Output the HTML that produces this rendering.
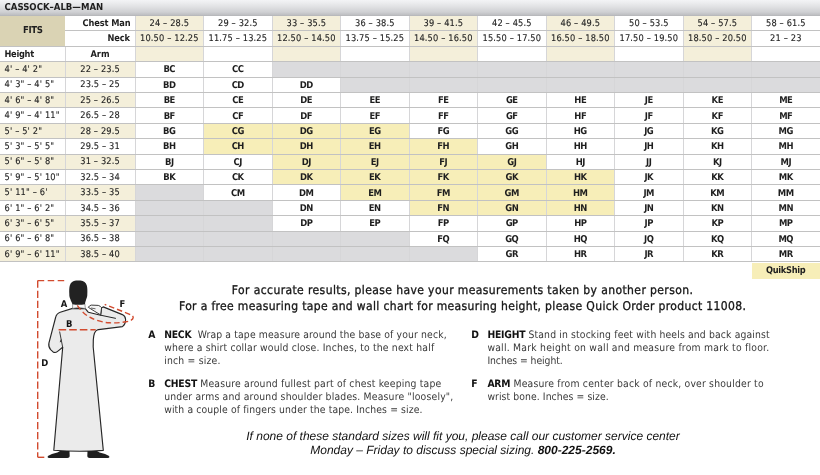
<!DOCTYPE html>
<html><head><meta charset="utf-8">
<style>
html,body{margin:0;padding:0;background:#fff;}
body{width:820px;height:475px;position:relative;overflow:hidden;will-change:transform;text-rendering:geometricPrecision;font-family:"DejaVu Sans Condensed","Liberation Sans",sans-serif;color:#1e1e1e;}
.c{position:absolute;}
.t{position:absolute;white-space:nowrap;font-size:9.2px;}
.t.b{font-weight:bold;}
.t.r{font-weight:normal;color:#222;-webkit-text-stroke:0.1px #222;letter-spacing:0.15px;text-indent:0.15px;}
.t.code{letter-spacing:-0.5px;font-size:9.4px;margin-top:0.6px;}
.t.h{letter-spacing:0.15px;}
.t.lab{letter-spacing:-0.3px;}
.t.q{letter-spacing:-0.3px;}
.fits{font-size:9.5px;letter-spacing:-0.4px;}
.hdr{position:absolute;left:0;top:0;width:820px;height:15.7px;background:linear-gradient(#f3f4f6,#e4e5e7 35%,#cfd0d3 75%,#bfc0c3 92%,#b3b4b7);z-index:2;}
.hdr span{position:absolute;left:4.6px;top:0.45px;line-height:15.4px;font-size:9.5px;font-weight:bold;letter-spacing:0px;}
.hl{position:absolute;left:0;width:820px;height:1px;background:#c2c2c2;}
.vl{position:absolute;width:1px;background:#d6d6d8;}
.p{position:absolute;white-space:nowrap;}
.intro{left:0;width:925.2px;text-align:center;font-size:12px;letter-spacing:0.40px;color:#151515;-webkit-text-stroke:0.3px #151515;}
.sec{font-size:10.3px;line-height:13.1px;color:#383838;letter-spacing:0.2px;}
.sec b{color:#111;letter-spacing:-0.2px;}
.it{font-family:"Liberation Sans",Arial,sans-serif;font-style:italic;font-size:12px;text-align:center;width:926px;left:0;color:#111;}
</style></head><body>
<div class="hdr"><span>CASSOCK–ALB—MAN</span></div>
<div class="c" style="left:0px;top:15.40px;width:65px;height:30.80px;background:#dad3b4;"></div>
<div class="t b fits" style="left:0px;top:16.30px;width:65.6px;height:30.80px;line-height:30.80px;text-align:center;">FITS</div>
<div class="t b" style="left:65px;top:15.70px;width:65.5px;height:15.40px;line-height:15.40px;text-align:right;letter-spacing:-0.12px">Chest Man</div>
<div class="t b" style="left:65px;top:31.10px;width:65.5px;height:15.40px;line-height:15.40px;text-align:right;letter-spacing:-0.15px;margin-left:-0.6px">Neck</div>
<div class="t b lab" style="left:4.5px;top:46.50px;width:60.5px;height:15.40px;line-height:15.40px;text-align:left;">Height</div>
<div class="t b" style="left:65px;top:46.50px;width:70px;height:15.40px;line-height:15.40px;text-align:center;">Arm</div>
<div class="c" style="left:135px;top:15.40px;width:68.5px;height:46.20px;background:#f4efda;"></div>
<div class="t r" style="left:135px;top:15.70px;width:68.5px;height:15.40px;line-height:15.40px;text-align:center;">24 – 28.5</div>
<div class="t r" style="left:135px;top:31.10px;width:68.5px;height:15.40px;line-height:15.40px;text-align:center;">10.50 – 12.25</div>
<div class="t r" style="left:203.5px;top:15.70px;width:68.5px;height:15.40px;line-height:15.40px;text-align:center;">29 – 32.5</div>
<div class="t r" style="left:203.5px;top:31.10px;width:68.5px;height:15.40px;line-height:15.40px;text-align:center;">11.75 – 13.25</div>
<div class="c" style="left:272px;top:15.40px;width:68.5px;height:46.20px;background:#f4efda;"></div>
<div class="t r" style="left:272px;top:15.70px;width:68.5px;height:15.40px;line-height:15.40px;text-align:center;">33 – 35.5</div>
<div class="t r" style="left:272px;top:31.10px;width:68.5px;height:15.40px;line-height:15.40px;text-align:center;">12.50 – 14.50</div>
<div class="t r" style="left:340.5px;top:15.70px;width:68.5px;height:15.40px;line-height:15.40px;text-align:center;">36 – 38.5</div>
<div class="t r" style="left:340.5px;top:31.10px;width:68.5px;height:15.40px;line-height:15.40px;text-align:center;">13.75 – 15.25</div>
<div class="c" style="left:409px;top:15.40px;width:68.5px;height:46.20px;background:#f4efda;"></div>
<div class="t r" style="left:409px;top:15.70px;width:68.5px;height:15.40px;line-height:15.40px;text-align:center;">39 – 41.5</div>
<div class="t r" style="left:409px;top:31.10px;width:68.5px;height:15.40px;line-height:15.40px;text-align:center;">14.50 – 16.50</div>
<div class="t r" style="left:477.5px;top:15.70px;width:68.5px;height:15.40px;line-height:15.40px;text-align:center;">42 – 45.5</div>
<div class="t r" style="left:477.5px;top:31.10px;width:68.5px;height:15.40px;line-height:15.40px;text-align:center;">15.50 – 17.50</div>
<div class="c" style="left:546px;top:15.40px;width:68.5px;height:46.20px;background:#f4efda;"></div>
<div class="t r" style="left:546px;top:15.70px;width:68.5px;height:15.40px;line-height:15.40px;text-align:center;">46 – 49.5</div>
<div class="t r" style="left:546px;top:31.10px;width:68.5px;height:15.40px;line-height:15.40px;text-align:center;">16.50 – 18.50</div>
<div class="t r" style="left:614.5px;top:15.70px;width:68.5px;height:15.40px;line-height:15.40px;text-align:center;">50 – 53.5</div>
<div class="t r" style="left:614.5px;top:31.10px;width:68.5px;height:15.40px;line-height:15.40px;text-align:center;">17.50 – 19.50</div>
<div class="c" style="left:683px;top:15.40px;width:68.5px;height:46.20px;background:#f4efda;"></div>
<div class="t r" style="left:683px;top:15.70px;width:68.5px;height:15.40px;line-height:15.40px;text-align:center;">54 – 57.5</div>
<div class="t r" style="left:683px;top:31.10px;width:68.5px;height:15.40px;line-height:15.40px;text-align:center;">18.50 – 20.50</div>
<div class="t r" style="left:751.5px;top:15.70px;width:68.5px;height:15.40px;line-height:15.40px;text-align:center;">58 – 61.5</div>
<div class="t r" style="left:751.5px;top:31.10px;width:68.5px;height:15.40px;line-height:15.40px;text-align:center;">21 – 23</div>
<div class="c" style="left:0px;top:61.60px;width:135px;height:15.40px;background:#f4efda;"></div>
<div class="t r h" style="left:4.4px;top:61.90px;width:65.6px;height:15.40px;line-height:15.40px;text-align:left;">4' – 4' 2&quot;</div>
<div class="t r" style="left:65px;top:61.90px;width:70px;height:15.40px;line-height:15.40px;text-align:center;">22 – 23.5</div>
<div class="t b code" style="left:135px;top:61.90px;width:68.5px;height:15.40px;line-height:15.40px;text-align:center;">BC</div>
<div class="t b code" style="left:203.5px;top:61.90px;width:68.5px;height:15.40px;line-height:15.40px;text-align:center;">CC</div>
<div class="c" style="left:272px;top:61.60px;width:68.5px;height:15.40px;background:#dbdbdd;"></div>
<div class="c" style="left:340.5px;top:61.60px;width:68.5px;height:15.40px;background:#dbdbdd;"></div>
<div class="c" style="left:409px;top:61.60px;width:68.5px;height:15.40px;background:#dbdbdd;"></div>
<div class="c" style="left:477.5px;top:61.60px;width:68.5px;height:15.40px;background:#dbdbdd;"></div>
<div class="c" style="left:546px;top:61.60px;width:68.5px;height:15.40px;background:#dbdbdd;"></div>
<div class="c" style="left:614.5px;top:61.60px;width:68.5px;height:15.40px;background:#dbdbdd;"></div>
<div class="c" style="left:683px;top:61.60px;width:68.5px;height:15.40px;background:#dbdbdd;"></div>
<div class="c" style="left:751.5px;top:61.60px;width:68.5px;height:15.40px;background:#dbdbdd;"></div>
<div class="t r h" style="left:4.4px;top:77.30px;width:65.6px;height:15.40px;line-height:15.40px;text-align:left;">4' 3&quot; – 4' 5&quot;</div>
<div class="t r" style="left:65px;top:77.30px;width:70px;height:15.40px;line-height:15.40px;text-align:center;">23.5 – 25</div>
<div class="t b code" style="left:135px;top:77.30px;width:68.5px;height:15.40px;line-height:15.40px;text-align:center;">BD</div>
<div class="t b code" style="left:203.5px;top:77.30px;width:68.5px;height:15.40px;line-height:15.40px;text-align:center;">CD</div>
<div class="t b code" style="left:272px;top:77.30px;width:68.5px;height:15.40px;line-height:15.40px;text-align:center;">DD</div>
<div class="c" style="left:340.5px;top:77.00px;width:68.5px;height:15.40px;background:#dbdbdd;"></div>
<div class="c" style="left:409px;top:77.00px;width:68.5px;height:15.40px;background:#dbdbdd;"></div>
<div class="c" style="left:477.5px;top:77.00px;width:68.5px;height:15.40px;background:#dbdbdd;"></div>
<div class="c" style="left:546px;top:77.00px;width:68.5px;height:15.40px;background:#dbdbdd;"></div>
<div class="c" style="left:614.5px;top:77.00px;width:68.5px;height:15.40px;background:#dbdbdd;"></div>
<div class="c" style="left:683px;top:77.00px;width:68.5px;height:15.40px;background:#dbdbdd;"></div>
<div class="c" style="left:751.5px;top:77.00px;width:68.5px;height:15.40px;background:#dbdbdd;"></div>
<div class="c" style="left:0px;top:92.40px;width:135px;height:15.40px;background:#f4efda;"></div>
<div class="t r h" style="left:4.4px;top:92.70px;width:65.6px;height:15.40px;line-height:15.40px;text-align:left;">4' 6&quot; – 4' 8&quot;</div>
<div class="t r" style="left:65px;top:92.70px;width:70px;height:15.40px;line-height:15.40px;text-align:center;">25 – 26.5</div>
<div class="t b code" style="left:135px;top:92.70px;width:68.5px;height:15.40px;line-height:15.40px;text-align:center;">BE</div>
<div class="t b code" style="left:203.5px;top:92.70px;width:68.5px;height:15.40px;line-height:15.40px;text-align:center;">CE</div>
<div class="t b code" style="left:272px;top:92.70px;width:68.5px;height:15.40px;line-height:15.40px;text-align:center;">DE</div>
<div class="t b code" style="left:340.5px;top:92.70px;width:68.5px;height:15.40px;line-height:15.40px;text-align:center;">EE</div>
<div class="t b code" style="left:409px;top:92.70px;width:68.5px;height:15.40px;line-height:15.40px;text-align:center;">FE</div>
<div class="t b code" style="left:477.5px;top:92.70px;width:68.5px;height:15.40px;line-height:15.40px;text-align:center;">GE</div>
<div class="t b code" style="left:546px;top:92.70px;width:68.5px;height:15.40px;line-height:15.40px;text-align:center;">HE</div>
<div class="t b code" style="left:614.5px;top:92.70px;width:68.5px;height:15.40px;line-height:15.40px;text-align:center;">JE</div>
<div class="t b code" style="left:683px;top:92.70px;width:68.5px;height:15.40px;line-height:15.40px;text-align:center;">KE</div>
<div class="t b code" style="left:751.5px;top:92.70px;width:68.5px;height:15.40px;line-height:15.40px;text-align:center;">ME</div>
<div class="t r h" style="left:4.4px;top:108.10px;width:65.6px;height:15.40px;line-height:15.40px;text-align:left;">4' 9&quot; – 4' 11&quot;</div>
<div class="t r" style="left:65px;top:108.10px;width:70px;height:15.40px;line-height:15.40px;text-align:center;">26.5 – 28</div>
<div class="t b code" style="left:135px;top:108.10px;width:68.5px;height:15.40px;line-height:15.40px;text-align:center;">BF</div>
<div class="t b code" style="left:203.5px;top:108.10px;width:68.5px;height:15.40px;line-height:15.40px;text-align:center;">CF</div>
<div class="t b code" style="left:272px;top:108.10px;width:68.5px;height:15.40px;line-height:15.40px;text-align:center;">DF</div>
<div class="t b code" style="left:340.5px;top:108.10px;width:68.5px;height:15.40px;line-height:15.40px;text-align:center;">EF</div>
<div class="t b code" style="left:409px;top:108.10px;width:68.5px;height:15.40px;line-height:15.40px;text-align:center;">FF</div>
<div class="t b code" style="left:477.5px;top:108.10px;width:68.5px;height:15.40px;line-height:15.40px;text-align:center;">GF</div>
<div class="t b code" style="left:546px;top:108.10px;width:68.5px;height:15.40px;line-height:15.40px;text-align:center;">HF</div>
<div class="t b code" style="left:614.5px;top:108.10px;width:68.5px;height:15.40px;line-height:15.40px;text-align:center;">JF</div>
<div class="t b code" style="left:683px;top:108.10px;width:68.5px;height:15.40px;line-height:15.40px;text-align:center;">KF</div>
<div class="t b code" style="left:751.5px;top:108.10px;width:68.5px;height:15.40px;line-height:15.40px;text-align:center;">MF</div>
<div class="c" style="left:0px;top:123.20px;width:135px;height:15.40px;background:#f4efda;"></div>
<div class="t r h" style="left:4.4px;top:123.50px;width:65.6px;height:15.40px;line-height:15.40px;text-align:left;">5' – 5' 2&quot;</div>
<div class="t r" style="left:65px;top:123.50px;width:70px;height:15.40px;line-height:15.40px;text-align:center;">28 – 29.5</div>
<div class="t b code" style="left:135px;top:123.50px;width:68.5px;height:15.40px;line-height:15.40px;text-align:center;">BG</div>
<div class="c" style="left:203.5px;top:123.20px;width:68.5px;height:15.40px;background:#f7eeb8;"></div>
<div class="t b code" style="left:203.5px;top:123.50px;width:68.5px;height:15.40px;line-height:15.40px;text-align:center;">CG</div>
<div class="c" style="left:272px;top:123.20px;width:68.5px;height:15.40px;background:#f7eeb8;"></div>
<div class="t b code" style="left:272px;top:123.50px;width:68.5px;height:15.40px;line-height:15.40px;text-align:center;">DG</div>
<div class="c" style="left:340.5px;top:123.20px;width:68.5px;height:15.40px;background:#f7eeb8;"></div>
<div class="t b code" style="left:340.5px;top:123.50px;width:68.5px;height:15.40px;line-height:15.40px;text-align:center;">EG</div>
<div class="t b code" style="left:409px;top:123.50px;width:68.5px;height:15.40px;line-height:15.40px;text-align:center;">FG</div>
<div class="t b code" style="left:477.5px;top:123.50px;width:68.5px;height:15.40px;line-height:15.40px;text-align:center;">GG</div>
<div class="t b code" style="left:546px;top:123.50px;width:68.5px;height:15.40px;line-height:15.40px;text-align:center;">HG</div>
<div class="t b code" style="left:614.5px;top:123.50px;width:68.5px;height:15.40px;line-height:15.40px;text-align:center;">JG</div>
<div class="t b code" style="left:683px;top:123.50px;width:68.5px;height:15.40px;line-height:15.40px;text-align:center;">KG</div>
<div class="t b code" style="left:751.5px;top:123.50px;width:68.5px;height:15.40px;line-height:15.40px;text-align:center;">MG</div>
<div class="t r h" style="left:4.4px;top:138.90px;width:65.6px;height:15.40px;line-height:15.40px;text-align:left;">5' 3&quot; – 5' 5&quot;</div>
<div class="t r" style="left:65px;top:138.90px;width:70px;height:15.40px;line-height:15.40px;text-align:center;">29.5 – 31</div>
<div class="t b code" style="left:135px;top:138.90px;width:68.5px;height:15.40px;line-height:15.40px;text-align:center;">BH</div>
<div class="c" style="left:203.5px;top:138.60px;width:68.5px;height:15.40px;background:#f7eeb8;"></div>
<div class="t b code" style="left:203.5px;top:138.90px;width:68.5px;height:15.40px;line-height:15.40px;text-align:center;">CH</div>
<div class="c" style="left:272px;top:138.60px;width:68.5px;height:15.40px;background:#f7eeb8;"></div>
<div class="t b code" style="left:272px;top:138.90px;width:68.5px;height:15.40px;line-height:15.40px;text-align:center;">DH</div>
<div class="c" style="left:340.5px;top:138.60px;width:68.5px;height:15.40px;background:#f7eeb8;"></div>
<div class="t b code" style="left:340.5px;top:138.90px;width:68.5px;height:15.40px;line-height:15.40px;text-align:center;">EH</div>
<div class="c" style="left:409px;top:138.60px;width:68.5px;height:15.40px;background:#f7eeb8;"></div>
<div class="t b code" style="left:409px;top:138.90px;width:68.5px;height:15.40px;line-height:15.40px;text-align:center;">FH</div>
<div class="t b code" style="left:477.5px;top:138.90px;width:68.5px;height:15.40px;line-height:15.40px;text-align:center;">GH</div>
<div class="t b code" style="left:546px;top:138.90px;width:68.5px;height:15.40px;line-height:15.40px;text-align:center;">HH</div>
<div class="t b code" style="left:614.5px;top:138.90px;width:68.5px;height:15.40px;line-height:15.40px;text-align:center;">JH</div>
<div class="t b code" style="left:683px;top:138.90px;width:68.5px;height:15.40px;line-height:15.40px;text-align:center;">KH</div>
<div class="t b code" style="left:751.5px;top:138.90px;width:68.5px;height:15.40px;line-height:15.40px;text-align:center;">MH</div>
<div class="c" style="left:0px;top:154.00px;width:135px;height:15.40px;background:#f4efda;"></div>
<div class="t r h" style="left:4.4px;top:154.30px;width:65.6px;height:15.40px;line-height:15.40px;text-align:left;">5' 6&quot; – 5' 8&quot;</div>
<div class="t r" style="left:65px;top:154.30px;width:70px;height:15.40px;line-height:15.40px;text-align:center;">31 – 32.5</div>
<div class="t b code" style="left:135px;top:154.30px;width:68.5px;height:15.40px;line-height:15.40px;text-align:center;">BJ</div>
<div class="t b code" style="left:203.5px;top:154.30px;width:68.5px;height:15.40px;line-height:15.40px;text-align:center;">CJ</div>
<div class="c" style="left:272px;top:154.00px;width:68.5px;height:15.40px;background:#f7eeb8;"></div>
<div class="t b code" style="left:272px;top:154.30px;width:68.5px;height:15.40px;line-height:15.40px;text-align:center;">DJ</div>
<div class="c" style="left:340.5px;top:154.00px;width:68.5px;height:15.40px;background:#f7eeb8;"></div>
<div class="t b code" style="left:340.5px;top:154.30px;width:68.5px;height:15.40px;line-height:15.40px;text-align:center;">EJ</div>
<div class="c" style="left:409px;top:154.00px;width:68.5px;height:15.40px;background:#f7eeb8;"></div>
<div class="t b code" style="left:409px;top:154.30px;width:68.5px;height:15.40px;line-height:15.40px;text-align:center;">FJ</div>
<div class="c" style="left:477.5px;top:154.00px;width:68.5px;height:15.40px;background:#f7eeb8;"></div>
<div class="t b code" style="left:477.5px;top:154.30px;width:68.5px;height:15.40px;line-height:15.40px;text-align:center;">GJ</div>
<div class="t b code" style="left:546px;top:154.30px;width:68.5px;height:15.40px;line-height:15.40px;text-align:center;">HJ</div>
<div class="t b code" style="left:614.5px;top:154.30px;width:68.5px;height:15.40px;line-height:15.40px;text-align:center;">JJ</div>
<div class="t b code" style="left:683px;top:154.30px;width:68.5px;height:15.40px;line-height:15.40px;text-align:center;">KJ</div>
<div class="t b code" style="left:751.5px;top:154.30px;width:68.5px;height:15.40px;line-height:15.40px;text-align:center;">MJ</div>
<div class="t r h" style="left:4.4px;top:169.70px;width:65.6px;height:15.40px;line-height:15.40px;text-align:left;">5' 9&quot; – 5' 10&quot;</div>
<div class="t r" style="left:65px;top:169.70px;width:70px;height:15.40px;line-height:15.40px;text-align:center;">32.5 – 34</div>
<div class="t b code" style="left:135px;top:169.70px;width:68.5px;height:15.40px;line-height:15.40px;text-align:center;">BK</div>
<div class="t b code" style="left:203.5px;top:169.70px;width:68.5px;height:15.40px;line-height:15.40px;text-align:center;">CK</div>
<div class="c" style="left:272px;top:169.40px;width:68.5px;height:15.40px;background:#f7eeb8;"></div>
<div class="t b code" style="left:272px;top:169.70px;width:68.5px;height:15.40px;line-height:15.40px;text-align:center;">DK</div>
<div class="c" style="left:340.5px;top:169.40px;width:68.5px;height:15.40px;background:#f7eeb8;"></div>
<div class="t b code" style="left:340.5px;top:169.70px;width:68.5px;height:15.40px;line-height:15.40px;text-align:center;">EK</div>
<div class="c" style="left:409px;top:169.40px;width:68.5px;height:15.40px;background:#f7eeb8;"></div>
<div class="t b code" style="left:409px;top:169.70px;width:68.5px;height:15.40px;line-height:15.40px;text-align:center;">FK</div>
<div class="c" style="left:477.5px;top:169.40px;width:68.5px;height:15.40px;background:#f7eeb8;"></div>
<div class="t b code" style="left:477.5px;top:169.70px;width:68.5px;height:15.40px;line-height:15.40px;text-align:center;">GK</div>
<div class="c" style="left:546px;top:169.40px;width:68.5px;height:15.40px;background:#f7eeb8;"></div>
<div class="t b code" style="left:546px;top:169.70px;width:68.5px;height:15.40px;line-height:15.40px;text-align:center;">HK</div>
<div class="t b code" style="left:614.5px;top:169.70px;width:68.5px;height:15.40px;line-height:15.40px;text-align:center;">JK</div>
<div class="t b code" style="left:683px;top:169.70px;width:68.5px;height:15.40px;line-height:15.40px;text-align:center;">KK</div>
<div class="t b code" style="left:751.5px;top:169.70px;width:68.5px;height:15.40px;line-height:15.40px;text-align:center;">MK</div>
<div class="c" style="left:0px;top:184.80px;width:135px;height:15.40px;background:#f4efda;"></div>
<div class="t r h" style="left:4.4px;top:185.10px;width:65.6px;height:15.40px;line-height:15.40px;text-align:left;">5' 11&quot; – 6'</div>
<div class="t r" style="left:65px;top:185.10px;width:70px;height:15.40px;line-height:15.40px;text-align:center;">33.5 – 35</div>
<div class="c" style="left:135px;top:184.80px;width:68.5px;height:15.40px;background:#dbdbdd;"></div>
<div class="t b code" style="left:203.5px;top:185.10px;width:68.5px;height:15.40px;line-height:15.40px;text-align:center;">CM</div>
<div class="t b code" style="left:272px;top:185.10px;width:68.5px;height:15.40px;line-height:15.40px;text-align:center;">DM</div>
<div class="c" style="left:340.5px;top:184.80px;width:68.5px;height:15.40px;background:#f7eeb8;"></div>
<div class="t b code" style="left:340.5px;top:185.10px;width:68.5px;height:15.40px;line-height:15.40px;text-align:center;">EM</div>
<div class="c" style="left:409px;top:184.80px;width:68.5px;height:15.40px;background:#f7eeb8;"></div>
<div class="t b code" style="left:409px;top:185.10px;width:68.5px;height:15.40px;line-height:15.40px;text-align:center;">FM</div>
<div class="c" style="left:477.5px;top:184.80px;width:68.5px;height:15.40px;background:#f7eeb8;"></div>
<div class="t b code" style="left:477.5px;top:185.10px;width:68.5px;height:15.40px;line-height:15.40px;text-align:center;">GM</div>
<div class="c" style="left:546px;top:184.80px;width:68.5px;height:15.40px;background:#f7eeb8;"></div>
<div class="t b code" style="left:546px;top:185.10px;width:68.5px;height:15.40px;line-height:15.40px;text-align:center;">HM</div>
<div class="t b code" style="left:614.5px;top:185.10px;width:68.5px;height:15.40px;line-height:15.40px;text-align:center;">JM</div>
<div class="t b code" style="left:683px;top:185.10px;width:68.5px;height:15.40px;line-height:15.40px;text-align:center;">KM</div>
<div class="t b code" style="left:751.5px;top:185.10px;width:68.5px;height:15.40px;line-height:15.40px;text-align:center;">MM</div>
<div class="t r h" style="left:4.4px;top:200.50px;width:65.6px;height:15.40px;line-height:15.40px;text-align:left;">6' 1&quot; – 6' 2&quot;</div>
<div class="t r" style="left:65px;top:200.50px;width:70px;height:15.40px;line-height:15.40px;text-align:center;">34.5 – 36</div>
<div class="c" style="left:135px;top:200.20px;width:68.5px;height:15.40px;background:#dbdbdd;"></div>
<div class="c" style="left:203.5px;top:200.20px;width:68.5px;height:15.40px;background:#dbdbdd;"></div>
<div class="t b code" style="left:272px;top:200.50px;width:68.5px;height:15.40px;line-height:15.40px;text-align:center;">DN</div>
<div class="t b code" style="left:340.5px;top:200.50px;width:68.5px;height:15.40px;line-height:15.40px;text-align:center;">EN</div>
<div class="c" style="left:409px;top:200.20px;width:68.5px;height:15.40px;background:#f7eeb8;"></div>
<div class="t b code" style="left:409px;top:200.50px;width:68.5px;height:15.40px;line-height:15.40px;text-align:center;">FN</div>
<div class="c" style="left:477.5px;top:200.20px;width:68.5px;height:15.40px;background:#f7eeb8;"></div>
<div class="t b code" style="left:477.5px;top:200.50px;width:68.5px;height:15.40px;line-height:15.40px;text-align:center;">GN</div>
<div class="c" style="left:546px;top:200.20px;width:68.5px;height:15.40px;background:#f7eeb8;"></div>
<div class="t b code" style="left:546px;top:200.50px;width:68.5px;height:15.40px;line-height:15.40px;text-align:center;">HN</div>
<div class="t b code" style="left:614.5px;top:200.50px;width:68.5px;height:15.40px;line-height:15.40px;text-align:center;">JN</div>
<div class="t b code" style="left:683px;top:200.50px;width:68.5px;height:15.40px;line-height:15.40px;text-align:center;">KN</div>
<div class="t b code" style="left:751.5px;top:200.50px;width:68.5px;height:15.40px;line-height:15.40px;text-align:center;">MN</div>
<div class="c" style="left:0px;top:215.60px;width:135px;height:15.40px;background:#f4efda;"></div>
<div class="t r h" style="left:4.4px;top:215.90px;width:65.6px;height:15.40px;line-height:15.40px;text-align:left;">6' 3&quot; – 6' 5&quot;</div>
<div class="t r" style="left:65px;top:215.90px;width:70px;height:15.40px;line-height:15.40px;text-align:center;">35.5 – 37</div>
<div class="c" style="left:135px;top:215.60px;width:68.5px;height:15.40px;background:#dbdbdd;"></div>
<div class="c" style="left:203.5px;top:215.60px;width:68.5px;height:15.40px;background:#dbdbdd;"></div>
<div class="t b code" style="left:272px;top:215.90px;width:68.5px;height:15.40px;line-height:15.40px;text-align:center;">DP</div>
<div class="t b code" style="left:340.5px;top:215.90px;width:68.5px;height:15.40px;line-height:15.40px;text-align:center;">EP</div>
<div class="t b code" style="left:409px;top:215.90px;width:68.5px;height:15.40px;line-height:15.40px;text-align:center;">FP</div>
<div class="t b code" style="left:477.5px;top:215.90px;width:68.5px;height:15.40px;line-height:15.40px;text-align:center;">GP</div>
<div class="t b code" style="left:546px;top:215.90px;width:68.5px;height:15.40px;line-height:15.40px;text-align:center;">HP</div>
<div class="t b code" style="left:614.5px;top:215.90px;width:68.5px;height:15.40px;line-height:15.40px;text-align:center;">JP</div>
<div class="t b code" style="left:683px;top:215.90px;width:68.5px;height:15.40px;line-height:15.40px;text-align:center;">KP</div>
<div class="t b code" style="left:751.5px;top:215.90px;width:68.5px;height:15.40px;line-height:15.40px;text-align:center;">MP</div>
<div class="t r h" style="left:4.4px;top:231.30px;width:65.6px;height:15.40px;line-height:15.40px;text-align:left;">6' 6&quot; – 6' 8&quot;</div>
<div class="t r" style="left:65px;top:231.30px;width:70px;height:15.40px;line-height:15.40px;text-align:center;">36.5 – 38</div>
<div class="c" style="left:135px;top:231.00px;width:68.5px;height:15.40px;background:#dbdbdd;"></div>
<div class="c" style="left:203.5px;top:231.00px;width:68.5px;height:15.40px;background:#dbdbdd;"></div>
<div class="c" style="left:272px;top:231.00px;width:68.5px;height:15.40px;background:#dbdbdd;"></div>
<div class="c" style="left:340.5px;top:231.00px;width:68.5px;height:15.40px;background:#dbdbdd;"></div>
<div class="t b code" style="left:409px;top:231.30px;width:68.5px;height:15.40px;line-height:15.40px;text-align:center;">FQ</div>
<div class="t b code" style="left:477.5px;top:231.30px;width:68.5px;height:15.40px;line-height:15.40px;text-align:center;">GQ</div>
<div class="t b code" style="left:546px;top:231.30px;width:68.5px;height:15.40px;line-height:15.40px;text-align:center;">HQ</div>
<div class="t b code" style="left:614.5px;top:231.30px;width:68.5px;height:15.40px;line-height:15.40px;text-align:center;">JQ</div>
<div class="t b code" style="left:683px;top:231.30px;width:68.5px;height:15.40px;line-height:15.40px;text-align:center;">KQ</div>
<div class="t b code" style="left:751.5px;top:231.30px;width:68.5px;height:15.40px;line-height:15.40px;text-align:center;">MQ</div>
<div class="c" style="left:0px;top:246.40px;width:135px;height:15.40px;background:#f4efda;"></div>
<div class="t r h" style="left:4.4px;top:246.70px;width:65.6px;height:15.40px;line-height:15.40px;text-align:left;">6' 9&quot; – 6' 11&quot;</div>
<div class="t r" style="left:65px;top:246.70px;width:70px;height:15.40px;line-height:15.40px;text-align:center;">38.5 – 40</div>
<div class="c" style="left:135px;top:246.40px;width:68.5px;height:15.40px;background:#dbdbdd;"></div>
<div class="c" style="left:203.5px;top:246.40px;width:68.5px;height:15.40px;background:#dbdbdd;"></div>
<div class="c" style="left:272px;top:246.40px;width:68.5px;height:15.40px;background:#dbdbdd;"></div>
<div class="c" style="left:340.5px;top:246.40px;width:68.5px;height:15.40px;background:#dbdbdd;"></div>
<div class="c" style="left:409px;top:246.40px;width:68.5px;height:15.40px;background:#dbdbdd;"></div>
<div class="t b code" style="left:477.5px;top:246.70px;width:68.5px;height:15.40px;line-height:15.40px;text-align:center;">GR</div>
<div class="t b code" style="left:546px;top:246.70px;width:68.5px;height:15.40px;line-height:15.40px;text-align:center;">HR</div>
<div class="t b code" style="left:614.5px;top:246.70px;width:68.5px;height:15.40px;line-height:15.40px;text-align:center;">JR</div>
<div class="t b code" style="left:683px;top:246.70px;width:68.5px;height:15.40px;line-height:15.40px;text-align:center;">KR</div>
<div class="t b code" style="left:751.5px;top:246.70px;width:68.5px;height:15.40px;line-height:15.40px;text-align:center;">MR</div>
<div class="c" style="left:751.5px;top:262.60px;width:68.5px;height:16.80px;background:#f7eeb8;"></div>
<div class="t b q" style="left:751.5px;top:262.90px;width:68.5px;height:16.80px;line-height:16.80px;text-align:center;">QuikShip</div>
<div class="vl" style="left:64.5px;top:46.20px;height:215.60px"></div>
<div class="vl" style="left:134.5px;top:15.40px;height:246.40px"></div>
<div class="vl" style="left:203.0px;top:15.40px;height:246.40px"></div>
<div class="vl" style="left:271.5px;top:15.40px;height:246.40px"></div>
<div class="vl" style="left:340.0px;top:15.40px;height:246.40px"></div>
<div class="vl" style="left:408.5px;top:15.40px;height:246.40px"></div>
<div class="vl" style="left:477.0px;top:15.40px;height:246.40px"></div>
<div class="vl" style="left:545.5px;top:15.40px;height:246.40px"></div>
<div class="vl" style="left:614.0px;top:15.40px;height:246.40px"></div>
<div class="vl" style="left:682.5px;top:15.40px;height:246.40px"></div>
<div class="vl" style="left:751.0px;top:15.40px;height:246.40px"></div>
<div class="hl" style="top:30.30px;left:65px;width:755px"></div>
<div class="hl" style="top:45.70px"></div>
<div class="hl" style="top:61.10px"></div>
<div class="hl" style="top:76.50px"></div>
<div class="hl" style="top:91.90px"></div>
<div class="hl" style="top:107.30px"></div>
<div class="hl" style="top:122.70px"></div>
<div class="hl" style="top:138.10px"></div>
<div class="hl" style="top:153.50px"></div>
<div class="hl" style="top:168.90px"></div>
<div class="hl" style="top:184.30px"></div>
<div class="hl" style="top:199.70px"></div>
<div class="hl" style="top:215.10px"></div>
<div class="hl" style="top:230.50px"></div>
<div class="hl" style="top:245.90px"></div>
<div class="hl" style="top:261.30px"></div>
<div class="p intro" style="top:283.3px">For accurate results, please have your measurements taken by another person.</div>
<div class="p intro" style="top:298.6px;letter-spacing:0.35px">For a free measuring tape and wall chart for measuring height, please Quick Order product 11008.</div>
<div class="p sec" style="left:148.3px;top:328.9px"><b>A</b></div>
<div class="p sec" style="left:164.2px;top:328.9px"><span style="letter-spacing:0.145px"><b>NECK</b>&nbsp; Wrap a tape measure around the base of your neck,</span><br><span style="letter-spacing:0.185px">where a shirt collar would close. Inches, to the next half</span><br>inch = size.</div>
<div class="p sec" style="left:148.3px;top:378px"><b>B</b></div>
<div class="p sec" style="left:164.2px;top:378px"><b>CHEST</b> Measure around fullest part of chest keeping tape<br>under arms and around shoulder blades. Measure &quot;loosely&quot;,<br><span style="letter-spacing:0.13px">with a couple of fingers under the tape. Inches = size.</span></div>
<div class="p sec" style="left:471.2px;top:328.9px"><b>D</b></div>
<div class="p sec" style="left:487.4px;top:328.9px"><span style="letter-spacing:0.145px"><b>HEIGHT</b> Stand in stocking feet with heels and back against</span><br><span style="letter-spacing:0.235px">wall. Mark height on wall and measure from mark to floor.</span><br><span style="letter-spacing:-0.06px">Inches = height.</span></div>
<div class="p sec" style="left:471.2px;top:377.6px"><b>F</b></div>
<div class="p sec" style="left:487.4px;top:377.6px"><b>ARM</b> Measure from center back of neck, over shoulder to<br><span style="letter-spacing:0.09px">wrist bone. Inches = size.</span></div>
<div class="p it" style="top:428.6px">If none of these standard sizes will fit you, please call our customer service center</div>
<div class="p it" style="top:443.2px">Monday – Friday to discuss special sizing. <b>800-225-2569.</b></div>
<svg style="position:absolute;left:0;top:0" width="820" height="475" viewBox="0 0 820 475">
<g fill="none" stroke="#d24b2f" stroke-width="1.4">
<path d="M37.7 280.6 L64.5 280.6" stroke-dasharray="6.5 3.5"/>
<path d="M37.7 280.6 L37.7 457.3" stroke-dasharray="7.2 2.9"/>
<path d="M37.7 457.3 L44.3 457.3"/>
</g>
<path d="M72.6 308.4 L60.2 312.2 Q56.4 313.6 55.6 317.5 L48.9 343.2 Q48.2 347 50.6 349.6 L53.1 351.9 Q55.2 353.2 57.3 351.6 L62.7 347.3 L53.8 450.2 Q78.5 452.2 103.3 450.4 L93.2 347 L93.3 340 Q93.8 331.2 97.2 330 L98.4 329.6 L122.4 326.6 Q125.7 324.2 125.6 319.5 Q125.3 315.9 122.4 314.6 L103.2 306.9 L101.6 307.7 L100.6 315.2 L88.4 312.3 L85.3 308.6 Z" fill="#ebebeb" stroke="#262626" stroke-width="1.15" stroke-linejoin="round"/>
<path d="M100.6 315.2 L115.9 318.4" fill="none" stroke="#262626" stroke-width="1"/>
<path d="M62.7 347.3 L59.6 331.5 M61.2 339.5 L60.2 342.2" fill="none" stroke="#262626" stroke-width="0.9"/>
<path d="M88.3 307.3 Q89.5 305.4 91.3 305.1 L98.3 305.4 Q100.4 306 101.6 307.7 L100.6 314.9 Q94 311 88.3 307.3 Z" fill="#f4f4f4" stroke="#262626" stroke-width="0.9" stroke-linejoin="round"/>
<path d="M91 308 L95.5 308.8" fill="none" stroke="#262626" stroke-width="0.7"/>
<path d="M72.6 303.6 L84.9 303.6 L85.3 308.6 Q79 306.4 72.6 308.4 Z" fill="#f6f6f6" stroke="#777" stroke-width="0.7"/>
<path d="M72.6 304.2 C71.6 302 70.8 300.8 70.4 299.2 C69.6 297.8 69.2 296 69.3 294 C69.1 291 69.2 287.5 69.8 285.4 C70.5 282.6 73 280.6 76 280.4 L80.5 280.4 C83.6 280.6 86.1 282.6 86.8 285.4 C87.4 287.5 87.5 291 87.3 294 C87.4 296 87 297.8 86.2 299.2 C85.8 300.8 85.2 302 84.9 304.2 Q78.7 305.5 72.6 304.2 Z" fill="#222" stroke="none"/>
<path d="M69.5 451 L69.7 456.3 Q69.6 458 67.4 458 L48.8 458 Q46.8 457.6 47.9 456 Q51.2 453.4 57.4 452.4 L60 451 Z" fill="#1f1f1f"/>
<path d="M87.5 451 L87.3 456.3 Q87.4 458 89.6 458 L108.2 458 Q110.2 457.6 109.1 456 Q105.8 453.4 99.6 452.4 L97 451 Z" fill="#1f1f1f"/>
<g fill="none" stroke="#d24b2f" stroke-width="1.4">
<path d="M58.6 329.7 L95.7 329.7" stroke-dasharray="7.6 3"/>
<path d="M77.3 305.4 C80 309.5 84.5 314.5 89.7 317.2 C95 320.2 103 322.6 109.5 322.8 C115.5 323 121 322.7 126 321.8 C130 321 133.2 319.8 133.2 317.6 C133.2 315.6 130 314.3 126 312.8 L104.7 304.4" stroke-dasharray="5.5 3"/>
</g>
<g font-family="DejaVu Sans Condensed, Liberation Sans, sans-serif" font-weight="bold" font-size="9.4" fill="#111">
<text x="60.8" y="306.6">A</text>
<text x="66" y="326.6">B</text>
<text x="41.2" y="366.3">D</text>
<text x="119.6" y="307">F</text>
</g>
</svg>

</body></html>
